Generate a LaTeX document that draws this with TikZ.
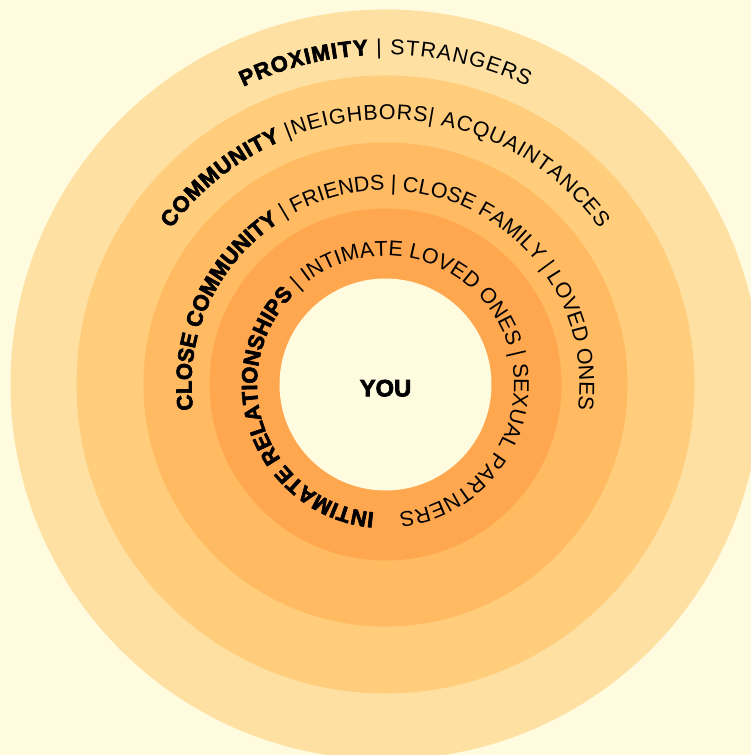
\documentclass[tikz,border=0pt]{standalone}
\usepackage{fontspec}
\setmainfont{Liberation Sans}
\newfontfamily\heavyfont[FakeBold=3]{Liberation Sans Bold}
\usetikzlibrary{decorations.text}

\definecolor{cream}{HTML}{FFFBDF}
\definecolor{proxcol}{HTML}{FEE0A2}
\definecolor{commcol}{HTML}{FFCD7B}
\definecolor{closecol}{HTML}{FFBA62}
\definecolor{intimcol}{HTML}{FFA74F}

\newcommand\heavytext{\heavyfont\fontsize{12.5pt}{15pt}\selectfont}
\newcommand\lighttext{\normalfont\fontsize{12.2pt}{14pt}\selectfont}

\begin{document}
\begin{tikzpicture}[
        ring/.style={circle, draw=none, inner sep=0pt, minimum size=#1},
        arclabel/.style={decorate, decoration={text along path,
            text format delimiters={[}{]}, text align={fit to path}, text={#1}}}
    ]
        \fill[cream] (-7.71,-7.41) rectangle (7.31,7.69);
        \clip (-7.71,-7.41) rectangle (7.31,7.69);

        \node[ring=15cm, fill=proxcol] (proximity) at (0,0) {};
        \node[ring=12.36cm, fill=commcol] (community) at (0,0) {};
        \node[ring=9.68cm, fill=closecol] (close) at (0,0) {};
        \node[ring=7.04cm, fill=intimcol] (intimate) at (0,0) {};
        \node[ring=4.24cm, fill=cream, font=\heavyfont\fontsize{13.5pt}{15pt}\selectfont,
            text height=0.48cm] (you) at (0,0) {YOU};

        \path[arclabel={[\heavytext]PROXIMITY[\lighttext] | STRANGERS}]
            (you.center) ++(115.5:6.6) arc[start angle=115.5, end angle=64.5, radius=6.6];
        \path[arclabel={[\heavytext]COMMUNITY[\lighttext] |NEIGHBORS| ACQUAINTANCES}]
            (you.center) ++(144:5.3) arc[start angle=144, end angle=36, radius=5.3];
        \path[arclabel={[\heavytext]CLOSE COMMUNITY[\lighttext] | FRIENDS | CLOSE FAMILY | LOVED ONES}]
            (you.center) ++(187.5:3.88) arc[start angle=187.5, end angle=-7.5, radius=3.88];
        \path[arclabel={[\heavytext]INTIMATE RELATIONSHIPS[\lighttext] | INTIMATE LOVED ONES | SEXUAL PARTNERS}]
            (you.center) ++(265:2.57) arc[start angle=265, end angle=-84, radius=2.57];
    \end{tikzpicture}
\end{document}
